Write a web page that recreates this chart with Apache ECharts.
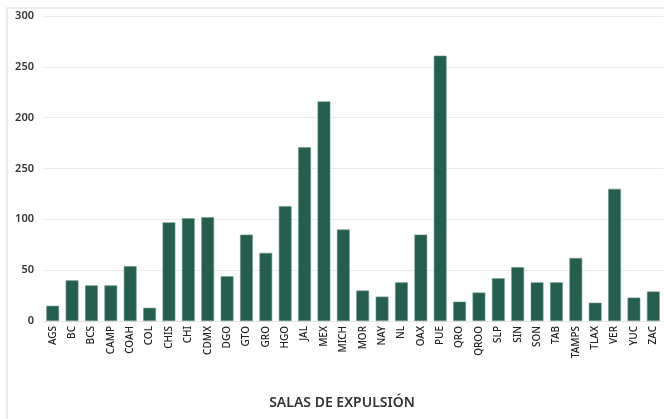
<!DOCTYPE html>
<html>
<head>
<meta charset="utf-8">
<script src="https://cdn.jsdelivr.net/npm/echarts@6/dist/echarts.min.js"></script>
<style>
  html, body { margin: 0; padding: 0; background: #ffffff; }
  #frame { position: absolute; left: 6px; top: 7px; width: 700px; height: 450px;
           border-left: 2px solid #ececec; border-top: 2px solid #ececec; }
  #chart { position: absolute; left: 0; top: 0; width: 664px; height: 419px; }
</style>
</head>
<body>
<div id="frame"></div>
<div id="chart"></div>
<script>
// Salas de expulsión por entidad
const categories = ['AGS','BC','BCS','CAMP','COAH','COL','CHIS','CHI','CDMX','DGO','GTO','GRO','HGO','JAL','MEX','MICH','MOR','NAY','NL','OAX','PUE','QRO','QROO','SLP','SIN','SON','TAB','TAMPS','TLAX','VER','YUC','ZAC'];
const salas = [15, 40, 35, 35, 54, 13, 97, 101, 102, 44, 85, 67, 113, 171, 216, 90, 30, 24, 38, 85, 261, 19, 28, 42, 53, 38, 38, 62, 18, 130, 23, 29];
// Tick texts as printed on the axis, bottom to top
const yTickLabels = ['0', '50', '100', '250', '200', '250', '300'];
const axisTitle = 'SALAS DE EXPULSIÓN';

const chart = echarts.init(document.getElementById('chart'), null, { renderer: 'canvas' });
chart.setOption({
  backgroundColor: 'transparent',
  animation: false,
  title: {
    text: axisTitle,
    left: 337,
    top: 391,
    textAlign: 'center',
    textStyle: { fontFamily: 'Noto Sans', fontSize: 14, fontWeight: 600, color: '#333333' }
  },
  grid: { left: 43, right: 1, top: 16, bottom: 98, containLabel: false },
  xAxis: {
    type: 'category',
    data: categories,
    axisLine: { show: true, lineStyle: { color: '#e6e6e6', width: 1 } },
    axisTick: { show: false },
    axisLabel: {
      rotate: 90, interval: 0, margin: 5,
      fontFamily: 'Noto Sans', fontSize: 10, fontWeight: 500, color: '#222222'
    },
    splitLine: { show: false }
  },
  yAxis: {
    type: 'value',
    min: 0, max: 300, interval: 50,
    axisLine: { show: false },
    axisTick: { show: false },
    axisLabel: {
      margin: 9,
      fontFamily: 'Noto Sans', fontSize: 11, fontWeight: 600, color: '#333333',
      formatter: (v) => yTickLabels[Math.round(v / 50)]
    },
    splitLine: { lineStyle: { color: '#ebebeb', width: 1 } }
  },
  series: [{
    type: 'bar',
    data: salas,
    barWidth: '66%',
    itemStyle: { color: '#235e4e', borderColor: '#6d978b', borderWidth: 0.6 }
  }]
});
</script>
</body>
</html>
